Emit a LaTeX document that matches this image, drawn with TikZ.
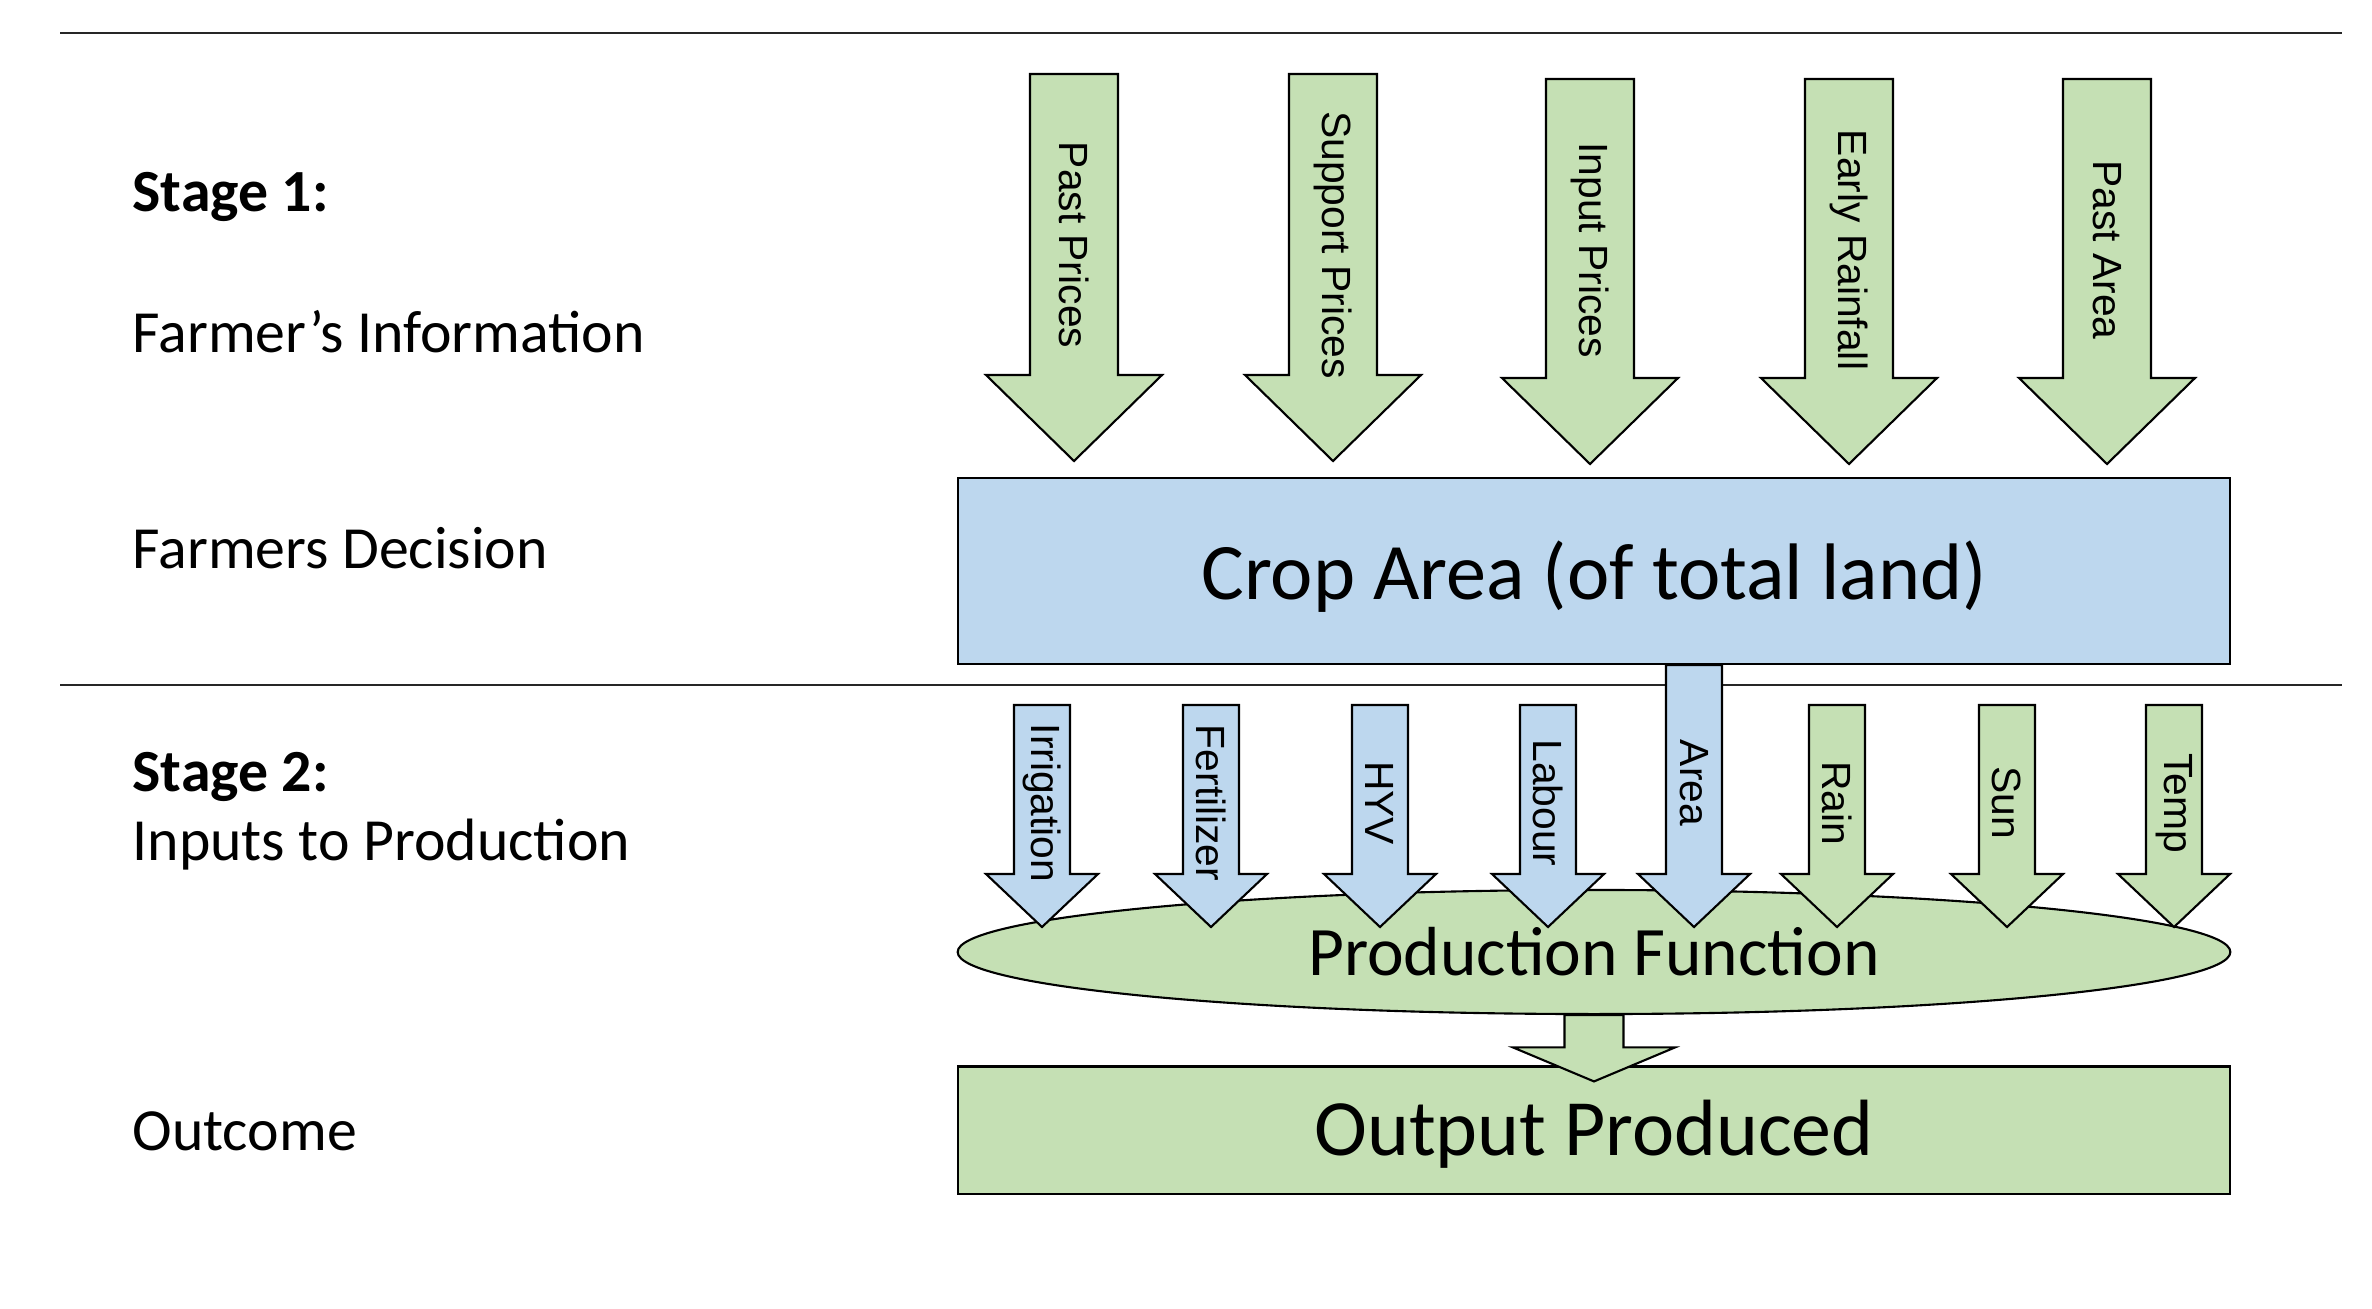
\documentclass[tikz,border=0pt]{standalone}
\usepackage{fontspec}
\setmainfont{Carlito}
\newfontfamily\arrowfont{Liberation Sans}
\usepackage{xcolor}
\usepackage{tikz}
\usetikzlibrary{calc,shapes.geometric}

\definecolor{leafgreen}{HTML}{C5E0B4}
\definecolor{skyblue}{HTML}{BDD7EE}

\begin{document}
\begin{tikzpicture}[
  x=0.01cm, y=-0.01cm,
  every node/.style={inner sep=0pt},
  rule/.style={line width=0.8pt, color=black!85},
  sidetext/.style={anchor=base west, font=\fontsize{17}{20}\selectfont},
  stagetext/.style={anchor=base west, font=\fontsize{17}{20}\selectfont\bfseries},
  blockbox/.style={draw, line width=0.6pt, fill=#1, minimum width=12.72cm},
  arrowlabel/.style={rotate=-90, font=\arrowfont\fontsize{11.6}{13}\selectfont},
  fatarrow/.style n args={4}{line width=0.6pt, fill=#1,
    to path={let \p1=(\tikztostart), \p2=(\tikztotarget) in
      (\x1-#2,\y1) -- (\x1+#2,\y1) -- (\x1+#2,\y2+#4) -- (\x1+#3,\y2+#4)
      -- (\x1,\y2) -- (\x1-#3,\y2+#4) -- (\x1-#2,\y2+#4) -- cycle}},
  infoarrow/.style={fatarrow={leafgreen}{0.44cm}{0.88cm}{0.86cm}},
  inputarrow/.style={fatarrow={#1}{0.28cm}{0.56cm}{0.53cm}},
]
\useasboundingbox (0,0) rectangle (2372,1308);

% --- stage rules
\draw[rule] (60,33) -- (2342,33);
\draw[rule] (60,685) -- (2342,685);

% --- left column
\node[stagetext] (stageone) at (132,211) {Stage 1:};
\node[sidetext] (info) at (132,352) {Farmer’s Information};
\node[sidetext] (decision) at (132,568) {Farmers Decision};
\node[stagetext] (stagetwo) at (132,791) {Stage 2:};
\node[sidetext] (inputs) at (132,860) {Inputs to Production};
\node[sidetext] (outcome) at (132,1150) {Outcome};

% --- decision box
\node[blockbox=skyblue, minimum height=1.86cm, text height=0.56cm, text depth=0cm,
  font=\fontsize{22.8}{27}\selectfont]
  (cropbox) at (1594,571) {Crop Area (of total land)};

% --- stage 1: farmer's information
\coordinate (pastpricetop) at (1074,74);
\coordinate (pastpricetip) at (1074,461);
\coordinate (supporttop) at (1333,74);
\coordinate (supporttip) at (1333,461);
\coordinate (inputpricetop) at (1590,79);
\coordinate (inputpricetip) at (1590,464);
\coordinate (earlyraintop) at (1849,79);
\coordinate (earlyraintip) at (1849,464);
\coordinate (pastareatop) at (2107,79);
\coordinate (pastareatip) at (2107,464);
\draw[infoarrow] (pastpricetop) to (pastpricetip);
\draw[infoarrow] (supporttop) to (supporttip);
\draw[infoarrow] (inputpricetop) to (inputpricetip);
\draw[infoarrow] (earlyraintop) to (earlyraintip);
\draw[infoarrow] (pastareatop) to (pastareatip);
\node[arrowlabel] (pastpricelbl) at (1074,245) {Past Prices};
\node[arrowlabel] (supportlbl) at (1333,245) {Support Prices};
\node[arrowlabel] (inputpricelbl) at (1590,250) {Input Prices};
\node[arrowlabel] (earlyrainlbl) at (1849,250) {Early Rainfall};
\node[arrowlabel] (pastarealbl) at (2107,250) {Past Area};

% --- production function
\node[draw, line width=0.6pt, fill=leafgreen, ellipse, minimum width=12.72cm,
  minimum height=1.24cm, font=\fontsize{19.75}{24}\selectfont]
  (prodfn) at (1594,952) {Production Function};

% --- stage 2: inputs to production
\coordinate (irrigtop) at (1042,705);
\coordinate (irrigtip) at (1042,927);
\coordinate (ferttop) at (1211,705);
\coordinate (ferttip) at (1211,927);
\coordinate (hyvtop) at (1380,705);
\coordinate (hyvtip) at (1380,927);
\coordinate (labourtop) at (1548,705);
\coordinate (labourtip) at (1548,927);
\coordinate (areatip) at (1694,927);
\coordinate (raintop) at (1837,705);
\coordinate (raintip) at (1837,927);
\coordinate (suntop) at (2007,705);
\coordinate (suntip) at (2007,927);
\coordinate (temptop) at (2174,705);
\coordinate (temptip) at (2174,927);
\draw[inputarrow=skyblue] (irrigtop) to (irrigtip);
\draw[inputarrow=skyblue] (ferttop) to (ferttip);
\draw[inputarrow=skyblue] (hyvtop) to (hyvtip);
\draw[inputarrow=skyblue] (labourtop) to (labourtip);
\draw[inputarrow=skyblue] (cropbox.south -| areatip) to (areatip);
\draw[inputarrow=leafgreen] (raintop) to (raintip);
\draw[inputarrow=leafgreen] (suntop) to (suntip);
\draw[inputarrow=leafgreen] (temptop) to (temptip);
\node[arrowlabel] (irriglbl) at (1042,803) {Irrigation};
\node[arrowlabel] (fertlbl) at (1211,803) {Fertilizer};
\node[arrowlabel] (hyvlbl) at (1380,803) {HYV};
\node[arrowlabel] (labourlbl) at (1548,803) {Labour};
\node[arrowlabel] (arealbl) at (1694,783) {Area};
\node[arrowlabel] (rainlbl) at (1837,803) {Rain};
\node[arrowlabel] (sunlbl) at (2007,803) {Sun};
\node[arrowlabel] (templbl) at (2174,803) {Temp};

% --- outcome
\node[blockbox=leafgreen, minimum height=1.27cm, text height=0.5cm, text depth=0cm,
  font=\fontsize{22.7}{27}\selectfont]
  (outbox) at (1594,1130) {Output Produced};
\draw[fatarrow={leafgreen}{0.295cm}{0.81cm}{0.34cm}]
  (prodfn.south) to ([yshift=-0.16cm]outbox.north);
\end{tikzpicture}
\end{document}
